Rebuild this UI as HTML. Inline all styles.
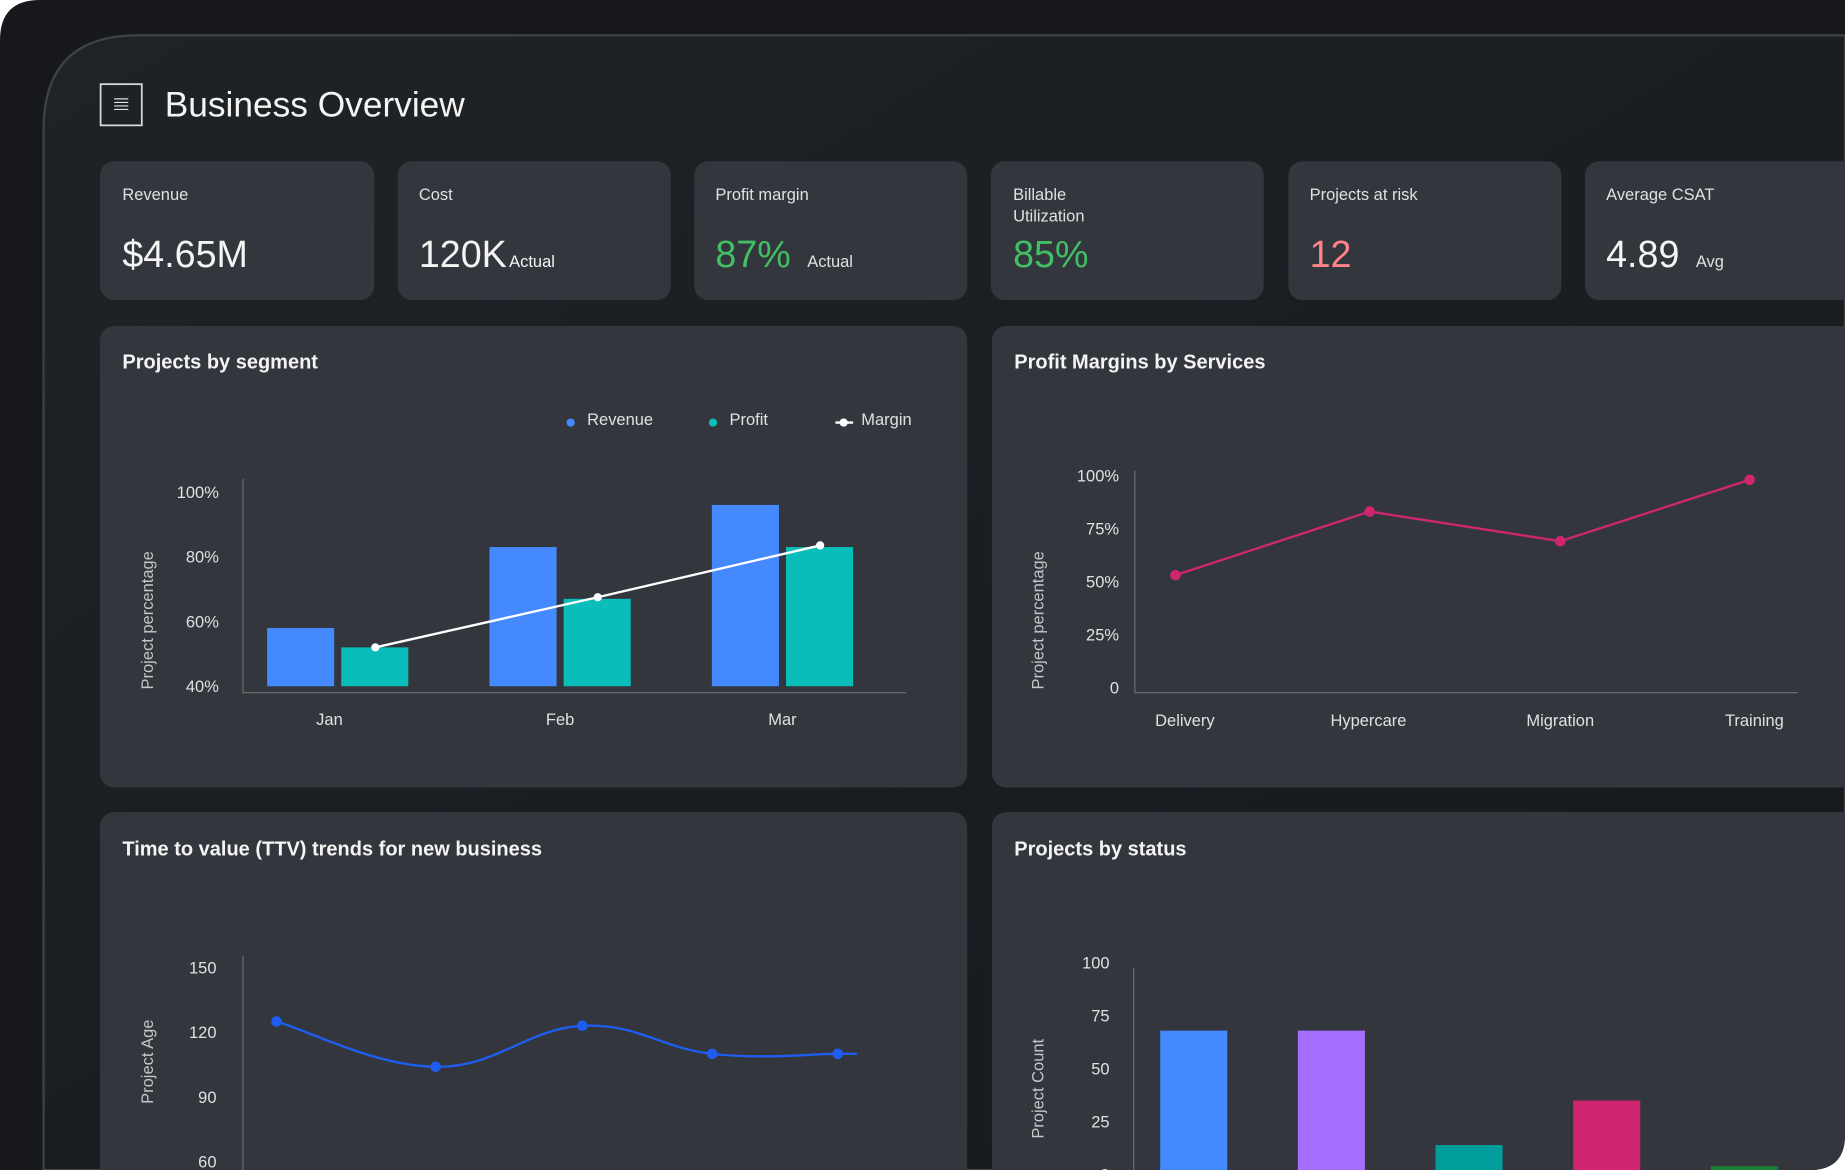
<!DOCTYPE html>
<html><head><meta charset="utf-8"><style>
html,body{margin:0;padding:0;background:#fff;width:1845px;height:1170px;overflow:hidden}
svg{display:block;font-family:"Liberation Sans",sans-serif}
</style></head><body>
<svg id="s" width="1845" height="1170" viewBox="0 0 1568 994" preserveAspectRatio="none">
<defs>
<clipPath id="outer"><path d="M34 0 H1568 V964 Q1568 994 1538 994 H0 V34 Q0 0 34 0 Z"/></clipPath>
<linearGradient id="ig" x1="0" y1="0" x2="1" y2="1"><stop offset="0" stop-color="#1f2326"/><stop offset="1" stop-color="#16191c"/></linearGradient>
</defs>
<g clip-path="url(#outer)">
<rect x="0" y="0" width="1568" height="994" fill="#16181b"/>
<path d="M37 994 V110 Q37 30 117 30 H1568 V994 Z" fill="url(#ig)" stroke="#3c4145" stroke-width="2"/>
<g>
<rect x="85.5" y="71.5" width="35" height="35" fill="none" stroke="#d8d8d8" stroke-width="1.5"/>
<path d="M97 84h12M97 87h12M97 90h12M97 93h12" stroke="#e0e0e0" stroke-width="1"/>
</g>
<text x="140" y="99" font-size="30" fill="#f4f4f4">Business Overview</text>

<g><rect x="85" y="137" width="233" height="118" rx="12" fill="#33373d"/>
<text x="104" y="170" font-size="14" fill="#e0e0e0">Revenue</text><text x="104" y="227" font-size="32" fill="#f4f4f4">$4.65M</text></g>
<g><rect x="338" y="137" width="232" height="118" rx="12" fill="#33373d"/>
<text x="356" y="170" font-size="14" fill="#e0e0e0">Cost</text><text x="356" y="227" font-size="32" fill="#f4f4f4">120K<tspan font-size="14" dx="2">Actual</tspan></text></g>
<g><rect x="590" y="137" width="232" height="118" rx="12" fill="#33373d"/>
<text x="608" y="170" font-size="14" fill="#e0e0e0">Profit margin</text><text x="608" y="227" font-size="32" fill="#42be65">87%<tspan font-size="14" fill="#e0e0e0" dx="14">Actual</tspan></text></g>
<g><rect x="842" y="137" width="232" height="118" rx="12" fill="#33373d"/>
<text x="861" y="170" font-size="14" fill="#e0e0e0">Billable</text><text x="861" y="188" font-size="14" fill="#e0e0e0">Utilization</text><text x="861" y="227" font-size="32" fill="#42be65">85%</text></g>
<g><rect x="1095" y="137" width="232" height="118" rx="12" fill="#33373d"/>
<text x="1113" y="170" font-size="14" fill="#e0e0e0">Projects at risk</text><text x="1113" y="227" font-size="32" fill="#ff8389">12</text></g>
<g><rect x="1347" y="137" width="260" height="118" rx="12" fill="#33373d"/>
<text x="1365" y="170" font-size="14" fill="#e0e0e0">Average CSAT</text><text x="1365" y="227" font-size="32" fill="#f4f4f4">4.89<tspan font-size="14" fill="#e0e0e0" dx="14">Avg</tspan></text></g>

<rect x="85" y="277" width="737" height="392" rx="12" fill="#33373d"/>
<rect x="843" y="277" width="760" height="392" rx="12" fill="#33373d"/>
<rect x="85" y="690" width="737" height="340" rx="12" fill="#33373d"/>
<rect x="843" y="690" width="760" height="340" rx="12" fill="#33373d"/>
<text x="104" y="313" font-size="17" font-weight="bold" fill="#f4f4f4">Projects by segment</text>
<text x="862" y="313" font-size="17" font-weight="bold" fill="#f4f4f4">Profit Margins by Services</text>
<text x="104" y="727" font-size="17" font-weight="bold" fill="#f4f4f4">Time to value (TTV) trends for new business</text>
<text x="862" y="727" font-size="17" font-weight="bold" fill="#f4f4f4">Projects by status</text>

<g>
<circle cx="485" cy="359" r="3.5" fill="#4589ff"/><text x="499" y="361" font-size="14" fill="#e0e0e0">Revenue</text>
<circle cx="606" cy="359" r="3.5" fill="#08bdba"/><text x="620" y="361" font-size="14" fill="#e0e0e0">Profit</text>
<path d="M710 359h15" stroke="#fff" stroke-width="2"/><circle cx="717" cy="359" r="3.5" fill="#fff"/><text x="732" y="361" font-size="14" fill="#e0e0e0">Margin</text>
</g>
<g id="c1"></g><g id="c2"></g><g id="c3"></g><g id="c4"></g>
</g>
</svg>
<script>
const segCats=["Jan","Feb","Mar"];
const segRevenue=[58,83,96];
const segProfit=[52,67,83];
const segMargin=[52,67.5,83.5];
const segTicks=[40,60,80,100];
const svcCats=["Delivery","Hypercare","Migration","Training"];
const svcMargin=[53,83,69,98];
const svcTicks=[0,25,50,75,100];
const ttvDays=[0,38,73,104,134];
const ttvAge=[125,104,123,110,110];
const ttvTicks=[60,90,120,150];
const statusCats=["Green","Purple","Teal","Red","Done"];
const statusCounts=[68,68,14,35,4];
const statusTicks=[0,25,50,75,100];

const NS="http://www.w3.org/2000/svg";
function mk(p,t,a,txt){const e=document.createElementNS(NS,t);for(const k in a)e.setAttribute(k,a[k]);if(txt!=null)e.textContent=txt;p.appendChild(e);return e;}

// Chart 1
(function(){
const g=document.getElementById('c1');
const y=v=>583-(v-40)*55/20;
const cx=[287,476,665];
mk(g,'line',{x1:206.5,y1:407,x2:206.5,y2:589,stroke:'#6f6f6f'});
mk(g,'line',{x1:206,y1:588.5,x2:770,y2:588.5,stroke:'#6f6f6f'});
segTicks.forEach(t=>{const e=mk(g,'text',{x:186,y:y(t)+5,'font-size':14,fill:'#e0e0e0','text-anchor':'end'},t+'%');

});
const yt=mk(g,'text',{transform:'translate(130 527) rotate(-90)','font-size':14,fill:'#c6c6c6','text-anchor':'middle'},'Project percentage');


segCats.forEach((c,i)=>{
const r=mk(g,'rect',{x:cx[i]-60,y:y(segRevenue[i]),width:57,height:583-y(segRevenue[i]),fill:'#4589ff'});


const p=mk(g,'rect',{x:cx[i]+3,y:y(segProfit[i]),width:57,height:583-y(segProfit[i]),fill:'#08bdba'});


const l=mk(g,'text',{x:cx[i]-(i===0?7:0),y:616,'font-size':14,fill:'#e0e0e0','text-anchor':'middle'},c);


});
const pts=segMargin.map((v,i)=>[cx[i]+32,y(v)]);
const ln=mk(g,'polyline',{points:pts.map(p=>p.join(',')).join(' '),fill:'none',stroke:'#fff','stroke-width':2});


pts.forEach(p=>{const c=mk(g,'circle',{cx:p[0],cy:p[1],r:3.5,fill:'#fff'});

});
})();

// Chart 2
(function(){
const g=document.getElementById('c2');
const y=v=>584-v*180/100;
const xs=[999,1164,1326,1487];
const lx=[1007,1163,1326,1491];
mk(g,'line',{x1:964.5,y1:400,x2:964.5,y2:589,stroke:'#6f6f6f'});
mk(g,'line',{x1:964,y1:588.5,x2:1528,y2:588.5,stroke:'#6f6f6f'});
svcTicks.forEach(t=>{const e=mk(g,'text',{x:951,y:y(t)+5,'font-size':14,fill:'#e0e0e0','text-anchor':'end'},t===0?'0':t+'%');

});
const yt=mk(g,'text',{transform:'translate(887 527) rotate(-90)','font-size':14,fill:'#c6c6c6','text-anchor':'middle'},'Project percentage');


svcCats.forEach((c,i)=>{const l=mk(g,'text',{x:lx[i],y:617,'font-size':14,fill:'#e0e0e0','text-anchor':'middle'},c);

});
const pts=svcMargin.map((v,i)=>[xs[i],y(v)]);
const ln=mk(g,'polyline',{points:pts.map(p=>p.join(',')).join(' '),fill:'none',stroke:'#d02670','stroke-width':2});


pts.forEach(p=>{const c=mk(g,'circle',{cx:p[0],cy:p[1],r:4.5,fill:'#d02670'});

});
})();

// Chart 3
(function(){
const g=document.getElementById('c3');
const y=v=>822+(150-v)*55/30;
const x=d=>235+d*(712-235)/134;
mk(g,'line',{x1:206.5,y1:812,x2:206.5,y2:1000,stroke:'#6f6f6f'});
ttvTicks.forEach(t=>{const e=mk(g,'text',{x:184,y:y(t)+5,'font-size':14,fill:'#e0e0e0','text-anchor':'end'},t);

});
const yt=mk(g,'text',{transform:'translate(130 902) rotate(-90)','font-size':14,fill:'#c6c6c6','text-anchor':'middle'},'Project Age');


const pts=ttvAge.map((v,i)=>[x(ttvDays[i]),y(v)]);
pts.push([x(ttvDays[ttvDays.length-1])+15,y(ttvAge[ttvAge.length-1])]);
let d='M'+pts[0].join(' ');
for(let i=0;i<pts.length-1;i++){const p0=pts[Math.max(0,i-1)],p1=pts[i],p2=pts[i+1],p3=pts[Math.min(pts.length-1,i+2)];
const t=0.2;d+=` C${p1[0]+(p2[0]-p0[0])*t} ${p1[1]+(p2[1]-p0[1])*t} ${p2[0]-(p3[0]-p1[0])*t} ${p2[1]-(p3[1]-p1[1])*t} ${p2[0]} ${p2[1]}`;}
const ln=mk(g,'path',{d:d,fill:'none',stroke:'#1f5cf0','stroke-width':2});


pts.slice(0,ttvAge.length).forEach(p=>{const c=mk(g,'circle',{cx:p[0],cy:p[1],r:4.5,fill:'#1f5cf0'});

});
})();

// Chart 4
(function(){
const g=document.getElementById('c4');
const y=v=>998-v*180/100;
const cols=['#4589ff','#a56eff','#009d9a','#d02670','#198038'];
mk(g,'line',{x1:963.5,y1:822,x2:963.5,y2:1000,stroke:'#6f6f6f'});
statusTicks.forEach(t=>{const e=mk(g,'text',{x:943,y:y(t)+5,'font-size':14,fill:'#e0e0e0','text-anchor':'end'},t);

});
const yt=mk(g,'text',{transform:'translate(887 925) rotate(-90)','font-size':14,fill:'#c6c6c6','text-anchor':'middle'},'Project Count');


statusCounts.forEach((v,i)=>{const r=mk(g,'rect',{x:986+i*117,y:y(v),width:57,height:998-y(v),fill:cols[i]});

});
})();
</script>
</body></html>
